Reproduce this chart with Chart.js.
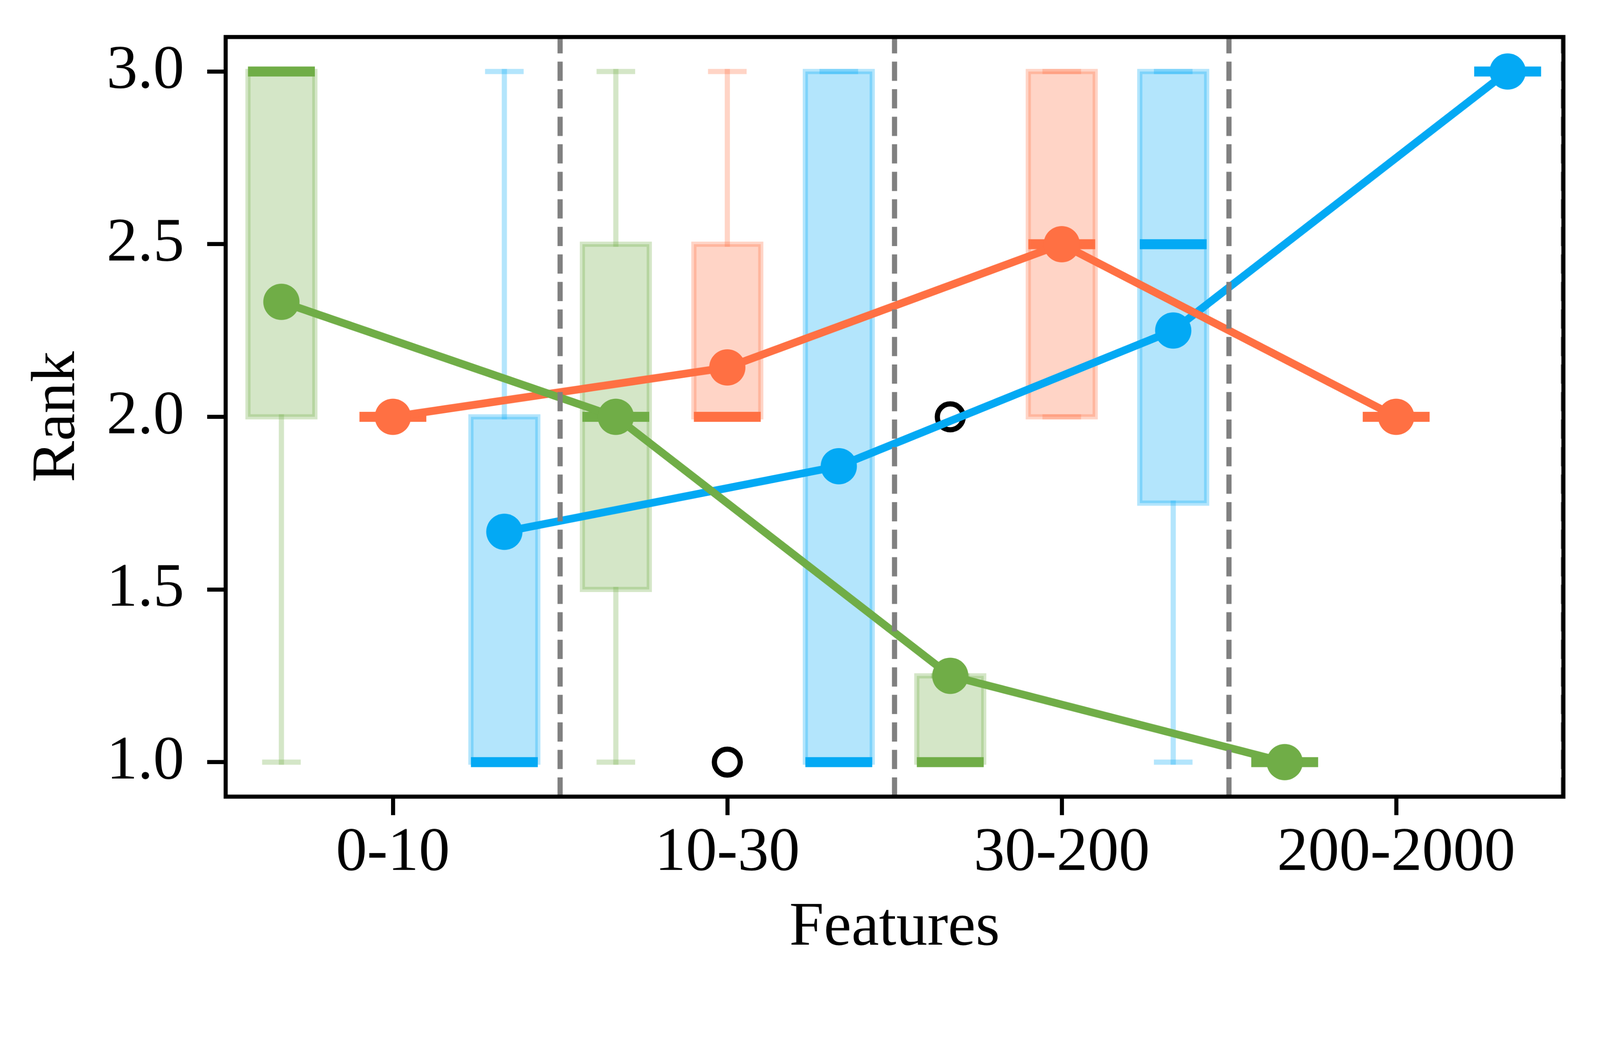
<!DOCTYPE html>
<html>
<head>
<meta charset="utf-8">
<script src="https://cdn.jsdelivr.net/npm/chart.js@4.4.0/dist/chart.umd.min.js"></script>
<style>
html,body{margin:0;padding:0;background:#ffffff;overflow:hidden;}
canvas{display:block;position:fixed;left:0;top:0;width:100vw;height:calc(100vw * 2703 / 4325);}
</style>
</head>
<body>
<canvas id="c" width="4325" height="2703" style="width:100vw;height:calc(100vw * 2703 / 4325)"></canvas>
<script>
// ---------------- data ----------------
const categories = ['0-10', '10-30', '30-200', '200-2000'];
const yTicks = [1.0, 1.5, 2.0, 2.5, 3.0];
const yMin = 0.9;
const yMax = 3.1;

// green series
const greenQ1 = [2, 1.5, 1, 1];
const greenMedian = [3, 2, 1, 1];
const greenQ3 = [3, 2.5, 1.25, 1];
const greenLow = [1, 1, 1, 1];
const greenHigh = [3, 3, 1.25, 1];
const greenMean = [2.333, 2.0, 1.25, 1.0];
const greenOutliers = [[], [], [2], []];

// orange series
const orangeQ1 = [2, 2, 2, 2];
const orangeMedian = [2, 2, 2.5, 2];
const orangeQ3 = [2, 2.5, 3, 2];
const orangeLow = [2, 2, 2, 2];
const orangeHigh = [2, 3, 3, 2];
const orangeMean = [2.0, 2.143, 2.5, 2.0];
const orangeOutliers = [[], [1], [], []];

// blue series
const blueQ1 = [1, 1, 1.75, 3];
const blueMedian = [1, 1, 2.5, 3];
const blueQ3 = [2, 3, 3, 3];
const blueLow = [1, 1, 1, 3];
const blueHigh = [3, 3, 3, 3];
const blueMean = [1.667, 1.857, 2.25, 3.0];
const blueOutliers = [[], [], [], []];

// ---------------- styles ----------------
const FONT = 'Liberation Serif';
const FS = 168;
const boxHalf = 0.1;     // half box width (data units)
const capHalf = 0.05;    // half cap width
const series = [
  {color: '#70AD47', offset: -1/3, q1: greenQ1, med: greenMedian, q3: greenQ3, lo: greenLow, hi: greenHigh, mean: greenMean, out: greenOutliers, lineOrder: 40},
  {color: '#FF7043', offset: 0,    q1: orangeQ1, med: orangeMedian, q3: orangeQ3, lo: orangeLow, hi: orangeHigh, mean: orangeMean, out: orangeOutliers, lineOrder: 41},
  {color: '#03A9F4', offset: 1/3,  q1: blueQ1, med: blueMedian, q3: blueQ3, lo: blueLow, hi: blueHigh, mean: blueMean, out: blueOutliers, lineOrder: 42}
];

function rgba(hex, a) {
  const n = parseInt(hex.slice(1), 16);
  return `rgba(${(n >> 16) & 255},${(n >> 8) & 255},${n & 255},${a})`;
}
const GAP = x => ({x: x, y: null});

const lineBase = {type: 'line', showLine: true, pointRadius: 0, pointHoverRadius: 0, fill: false, spanGaps: false, tension: 0};

const datasets = [];
series.forEach(s => {
  const xs = categories.map((c, i) => i + s.offset);
  // box fill
  datasets.push({
    type: 'bar',
    data: xs.map((x, i) => ({x: x, y: [s.q1[i], s.q3[i]]})),
    backgroundColor: rgba(s.color, 0.3), borderWidth: 0,
    grouped: false, barPercentage: 0.6, categoryPercentage: 1.0, order: 100
  });
  // box outline
  const outline = [];
  xs.forEach((x, i) => {
    if (s.q3[i] > s.q1[i]) {
      outline.push({x: x - boxHalf, y: s.q1[i]}, {x: x - boxHalf, y: s.q3[i]},
                   {x: x + boxHalf, y: s.q3[i]}, {x: x + boxHalf, y: s.q1[i]},
                   {x: x - boxHalf, y: s.q1[i]}, {x: x - boxHalf, y: s.q3[i]}, GAP(x));
    }
  });
  datasets.push(Object.assign({}, lineBase, {data: outline, borderColor: rgba(s.color, 0.3), borderWidth: 14, borderJoinStyle: 'miter', borderCapStyle: 'butt', order: 90}));
  // whiskers
  const whiskers = [];
  xs.forEach((x, i) => {
    if (s.lo[i] < s.q1[i]) whiskers.push({x: x, y: s.q1[i]}, {x: x, y: s.lo[i]}, GAP(x));
    if (s.hi[i] > s.q3[i]) whiskers.push({x: x, y: s.q3[i]}, {x: x, y: s.hi[i]}, GAP(x));
  });
  datasets.push(Object.assign({}, lineBase, {data: whiskers, borderColor: rgba(s.color, 0.3), borderWidth: 14, borderCapStyle: 'square', order: 80}));
  // caps
  const caps = [];
  xs.forEach((x, i) => {
    caps.push({x: x - capHalf, y: s.lo[i]}, {x: x + capHalf, y: s.lo[i]}, GAP(x));
    caps.push({x: x - capHalf, y: s.hi[i]}, {x: x + capHalf, y: s.hi[i]}, GAP(x));
  });
  datasets.push(Object.assign({}, lineBase, {data: caps, borderColor: rgba(s.color, 0.3), borderWidth: 14, borderCapStyle: 'square', order: 70}));
  // medians
  const meds = [];
  xs.forEach((x, i) => {
    meds.push({x: x - boxHalf, y: s.med[i]}, {x: x + boxHalf, y: s.med[i]}, GAP(x));
  });
  datasets.push(Object.assign({}, lineBase, {data: meds, borderColor: s.color, borderWidth: 27, borderCapStyle: 'butt', order: 60}));
  // outliers
  const outs = [];
  xs.forEach((x, i) => s.out[i].forEach(v => outs.push({x: x, y: v})));
  datasets.push({type: 'scatter', data: outs, showLine: false, pointRadius: 35, pointHoverRadius: 35,
    pointBackgroundColor: 'rgba(0,0,0,0)', pointBorderColor: '#000000', pointBorderWidth: 14, order: 50});
  // mean line
  datasets.push(Object.assign({}, lineBase, {
    data: xs.map((x, i) => ({x: x, y: s.mean[i]})),
    borderColor: s.color, borderWidth: 21, borderCapStyle: 'butt', borderJoinStyle: 'round',
    pointRadius: 49, pointHoverRadius: 49, pointBackgroundColor: s.color, pointBorderWidth: 0,
    order: s.lineOrder
  }));
});

// dashed group separators
const sep = [];
categories.forEach((c, i) => {
  sep.push({x: i + 0.5, y: yMin}, {x: i + 0.5, y: yMax}, GAP(i + 0.5));
});
datasets.push(Object.assign({}, lineBase, {data: sep, borderColor: '#808080', borderWidth: 14, borderDash: [52, 22.4], borderCapStyle: 'butt', order: 0}));

const framePlugin = {
  id: 'frame',
  afterDraw(chart) {
    const {ctx, chartArea: a} = chart;
    ctx.save();
    ctx.strokeStyle = '#000000';
    ctx.lineWidth = 11;
    ctx.lineJoin = 'miter';
    ctx.strokeRect(a.left, a.top, a.right - a.left, a.bottom - a.top);
    ctx.restore();
  }
};

const tickFont = {family: FONT, size: FS, lineHeight: 1.2};

new Chart(document.getElementById('c'), {
  type: 'bar',
  data: {datasets: datasets},
  plugins: [framePlugin],
  options: {
    responsive: false,
    devicePixelRatio: 1,
    animation: false,
    events: [],
    layout: {padding: {top: 100, right: 99, left: 0, bottom: 0}},
    plugins: {legend: {display: false}, tooltip: {enabled: false}},
    scales: {
      x: {
        type: 'linear', min: -0.5, max: 3.5, offset: false,
        grid: {display: true, drawOnChartArea: false, offset: false, drawTicks: true, tickLength: 50, tickWidth: 11, tickColor: '#000000'},
        border: {display: false},
        ticks: {font: tickFont, color: '#000000', padding: 3, maxRotation: 0, autoSkip: false,
                callback: v => categories[v]},
        afterBuildTicks: sc => { sc.ticks = categories.map((c, i) => ({value: i})); },
        afterFit: sc => { sc.height = 550; sc.paddingLeft = 0; sc.paddingRight = 0; },
        title: {display: true, text: 'Features', color: '#000000', font: tickFont, padding: {top: 0, bottom: 93}}
      },
      y: {
        type: 'linear', min: yMin, max: yMax, beginAtZero: false,
        grid: {display: true, drawOnChartArea: false, drawTicks: true, tickLength: 50, tickWidth: 11, tickColor: '#000000'},
        border: {display: false},
        ticks: {font: tickFont, color: '#000000', padding: 62, includeBounds: false,
                callback: v => Number(v).toFixed(1)},
        afterBuildTicks: sc => { sc.ticks = yTicks.map(v => ({value: v})); },
        afterFit: sc => { sc.width = 610; sc.paddingTop = 0; sc.paddingBottom = 0; },
        title: {display: true, text: 'Rank', color: '#000000', font: tickFont, padding: {top: 55, bottom: 0}}
      }
    }
  }
});
</script>
</body>
</html>
